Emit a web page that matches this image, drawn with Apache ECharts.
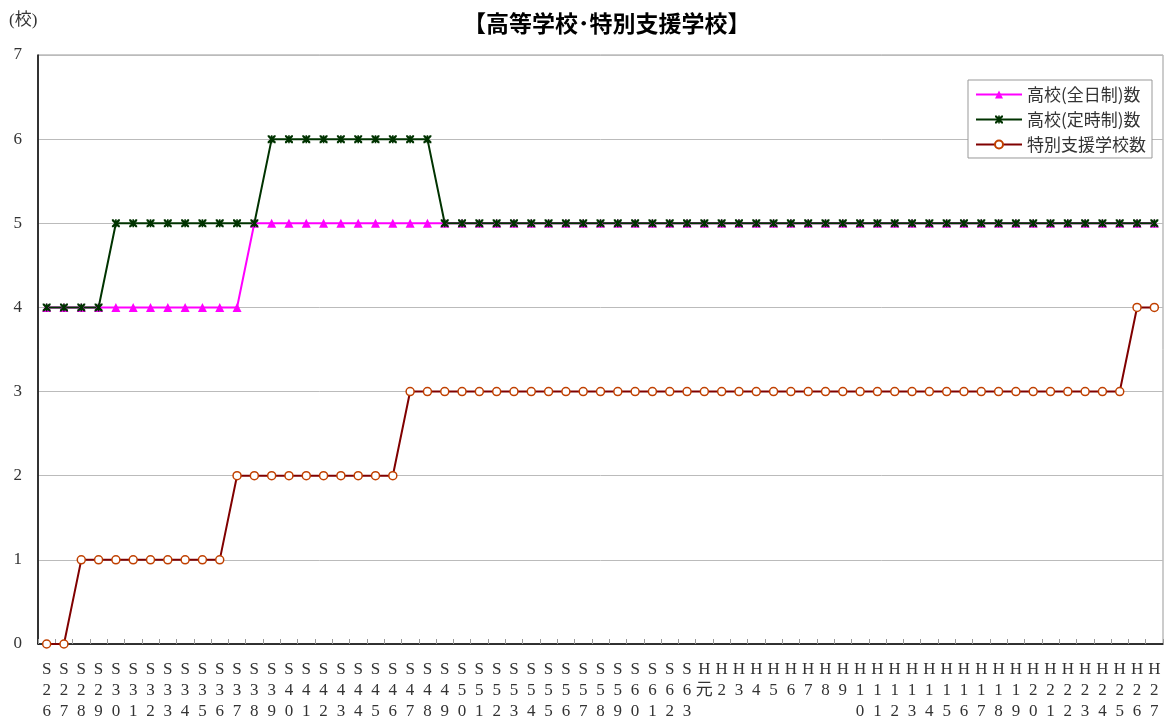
<!DOCTYPE html>
<html><head><meta charset="utf-8">
<script src="https://cdn.jsdelivr.net/npm/echarts@6/dist/echarts.min.js"></script>
<style>html,body{margin:0;padding:0;background:#fff}#c{width:1170px;height:724px}</style>
</head><body><div id="c"></div>
<script>
const categories = ['S26','S27','S28','S29','S30','S31','S32','S33','S34','S35','S36','S37','S38','S39','S40','S41','S42','S43','S44','S45','S46','S47','S48','S49','S50','S51','S52','S53','S54','S55','S56','S57','S58','S59','S60','S61','S62','S63','H元','H2','H3','H4','H5','H6','H7','H8','H9','H10','H11','H12','H13','H14','H15','H16','H17','H18','H19','H20','H21','H22','H23','H24','H25','H26','H27'];
const fullTime = [4,4,4,4,4,4,4,4,4,4,4,4,5,5,5,5,5,5,5,5,5,5,5,5,5,5,5,5,5,5,5,5,5,5,5,5,5,5,5,5,5,5,5,5,5,5,5,5,5,5,5,5,5,5,5,5,5,5,5,5,5,5,5,5,5];
const partTime = [4,4,4,4,5,5,5,5,5,5,5,5,5,6,6,6,6,6,6,6,6,6,6,5,5,5,5,5,5,5,5,5,5,5,5,5,5,5,5,5,5,5,5,5,5,5,5,5,5,5,5,5,5,5,5,5,5,5,5,5,5,5,5,5,5];
const special = [0,0,1,1,1,1,1,1,1,1,1,2,2,2,2,2,2,2,2,2,2,3,3,3,3,3,3,3,3,3,3,3,3,3,3,3,3,3,3,3,3,3,3,3,3,3,3,3,3,3,3,3,3,3,3,3,3,3,3,3,3,3,3,4,4];
const seriesNames = ['高校(全日制)数','高校(定時制)数','特別支援学校数'];
const yTicks = [0,1,2,3,4,5,6,7];

const serif = '"Liberation Serif","DejaVu Serif","Noto Sans CJK JP",serif';
const starPath = 'path://M0,0 L2,0 L5,3 L8,0 L10,0 L10,2 L7,5 L10,8 L10,10 L8,10 L5,7 L2,10 L0,10 L0,8 L3,5 L0,2 Z M4,0 L6,0 L6,10 L4,10 Z';

const chart = echarts.init(document.getElementById('c'));
chart.setOption({
  animation:false,
  title:{text:'【高等学校･特別支援学校】',left:458,top:7,
    textStyle:{fontFamily:'"Noto Sans CJK JP",sans-serif',fontWeight:'bold',fontSize:23,color:'#000'}},
  graphic:[{type:'text',left:9,top:12,style:{text:'(校)',font:'17px '+serif,fill:'#333'}}],
  legend:{orient:'vertical',right:18,top:80,itemWidth:46,itemHeight:10,itemGap:8,
    padding:[6,6,5,7],borderColor:'#999',borderWidth:1,backgroundColor:'#fff',
    textStyle:{fontFamily:'"Noto Sans CJK JP",sans-serif',fontSize:17,color:'#333'},
    data:seriesNames},
  grid:{left:38,right:7,top:55,bottom:80,show:true,borderColor:'#999',borderWidth:1},
  xAxis:{type:'category',data:categories,boundaryGap:true,
    axisLine:{lineStyle:{color:'#000',width:1.5}},
    axisTick:{show:true,inside:true,length:5,lineStyle:{color:'#999'}},
    axisLabel:{interval:0,fontFamily:serif,fontSize:17,color:'#333',lineHeight:21,margin:15,
      formatter:v=>v.split('').join('\n')}},
  yAxis:{type:'value',min:0,max:7,interval:1,
    axisLine:{show:true,lineStyle:{color:'#000',width:1.5}},
    axisTick:{show:false},
    splitLine:{lineStyle:{color:'#bbb'}},
    axisLabel:{fontFamily:serif,fontSize:17,color:'#333',margin:16}},
  series:[
    {name:seriesNames[0],type:'line',data:fullTime,symbol:'triangle',symbolSize:9,
     lineStyle:{color:'#ff00ff',width:2},itemStyle:{color:'#ff00ff'}},
    {name:seriesNames[1],type:'line',data:partTime,symbol:starPath,symbolSize:8,
     lineStyle:{color:'#003300',width:2},itemStyle:{color:'#003300'}},
    {name:seriesNames[2],type:'line',data:special,symbol:'circle',symbolSize:8,
     lineStyle:{color:'#800000',width:2},itemStyle:{color:'#fff',borderColor:'#c04000',borderWidth:1.5}}
  ]
});
</script></body></html>
